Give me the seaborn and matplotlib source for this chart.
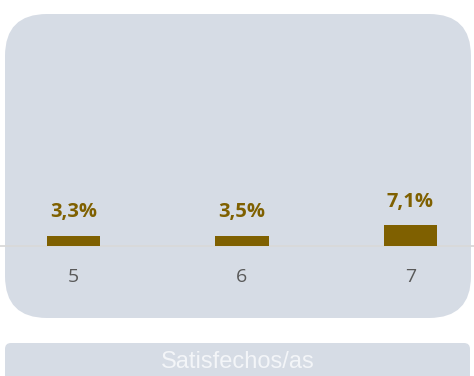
import matplotlib
matplotlib.use("Agg")
import matplotlib.pyplot as plt
from matplotlib.patches import FancyBboxPatch
from matplotlib.transforms import IdentityTransform
import seaborn as sns
import pandas as pd

categories = ["5", "6", "7"]
values = [3.3, 3.5, 7.1]
labels = ["3,3%", "3,5%", "7,1%"]
banner_text = "Satisfechos/as"

W, H, DPI = 474, 376, 100
PANEL = "#D6DCE5"
BAR = "#7F6000"

sns.set_theme(style="white")
plt.rcParams["font.family"] = ["Open Sans", "DejaVu Sans"]

fig = plt.figure(figsize=(W / DPI, H / DPI), dpi=DPI)
fig.patch.set_facecolor("white")

# rounded main panel (pixel coords, origin bottom-left)
panel = FancyBboxPatch((5, H - 318), 466, 304,
                       boxstyle="round,pad=0,rounding_size=42",
                       transform=IdentityTransform(),
                       facecolor=PANEL, edgecolor="none", zorder=-2)
fig.patches.append(panel)

banner = FancyBboxPatch((5, -12), 465, H - 343 + 12,
                        boxstyle="round,pad=0,rounding_size=6",
                        transform=IdentityTransform(),
                        facecolor=PANEL, edgecolor="none", zorder=-2)
fig.patches.append(banner)
fig.text(237.5 / W, 1 - 362 / H, banner_text, ha="center", va="center",
         fontsize=17, color="#F3F5F8", family=["Liberation Sans", "DejaVu Sans"])

ax_bottom = (H - 245.5) / H
ax_height = 225.5 / H
ax = fig.add_axes([0, ax_bottom, 1, ax_height])
ax.set_facecolor("none")

df = pd.DataFrame({"cat": categories, "val": values})
sns.barplot(data=df, x="cat", y="val", color=BAR, width=0.315,
            saturation=1, ax=ax, zorder=3, edgecolor="none", linewidth=0)

ax.set_xlim(-0.436, 2.377)
ax.set_ylim(0, 80)
for i, (v, lab) in enumerate(zip(values, labels)):
    ax.annotate(lab, (i, v), xytext=(0, 13.5), textcoords="offset points",
                ha="center", va="baseline", fontsize=14.5, fontweight="bold",
                color=BAR)

ax.set_xlabel("")
ax.set_ylabel("")
ax.set_yticks([])
ax.tick_params(axis="x", length=0, pad=16.5, labelsize=14, labelcolor="#595959")
for s in ["top", "left", "right"]:
    ax.spines[s].set_visible(False)
ax.spines["bottom"].set_color("#D9D9D9")
ax.spines["bottom"].set_linewidth(1.3)
ax.spines["bottom"].set_zorder(1)

fig.savefig("out.png", dpi=DPI, facecolor="white")
